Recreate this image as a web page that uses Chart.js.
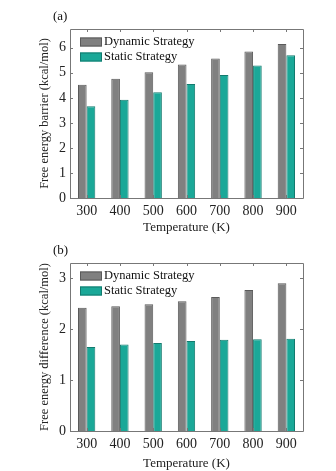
<!DOCTYPE html>
<html>
<head>
<meta charset="utf-8">
<title>Free energy vs temperature</title>
<script src="https://cdn.jsdelivr.net/npm/chart.js@4.4.0/dist/chart.umd.min.js"></script>
<style>
	body { margin: 0; background: #fff; }
	.panel { position: absolute; left: 0; width: 336px; }
</style>
</head>
<body>
<div class="panel" style="top:0;height:235px"><canvas id="chartA"></canvas></div>
<div class="panel" style="top:235px;height:236px"><canvas id="chartB"></canvas></div>
<script>
// data
const temperatures = ['300', '400', '500', '600', '700', '800', '900'];
const barrierDynamic = [4.52, 4.76, 5.02, 5.33, 5.57, 5.85, 6.15];
const barrierStatic = [3.66, 3.92, 4.22, 4.55, 4.91, 5.29, 5.70];
const diffDynamic = [2.42, 2.45, 2.49, 2.55, 2.63, 2.77, 2.90];
const diffStatic = [1.65, 1.70, 1.73, 1.77, 1.79, 1.80, 1.81];
const seriesNames = ['Dynamic Strategy', 'Static Strategy'];
const barrierTicks = [0, 1, 2, 3, 4, 5, 6];
const diffTicks = [0, 1, 2, 3];

const FONT = '"Liberation Serif", "Times New Roman", serif';
const GRAY = '#808080';
const TEAL = '#1aa898';

// box around plot area, inward ticks, legend and panel label
const framePlugin = {
	id: 'frame',
	afterDatasetsDraw(chart, args, opts) {
		const c = chart.ctx;
		const a = chart.chartArea;
		const x = chart.scales.x, y = chart.scales.y;
		c.save();
		c.strokeStyle = '#777';
		c.lineWidth = 1;
		c.beginPath();
		c.rect(Math.round(a.left) + 0.5, Math.round(a.top) + 0.5, Math.round(a.right - a.left), Math.round(a.bottom - a.top));
		c.stroke();
		c.beginPath();
		y.ticks.forEach(t => {
			const py = Math.round(y.getPixelForValue(t.value)) + 0.5;
			c.moveTo(a.left, py); c.lineTo(a.left + 3, py);
			c.moveTo(a.right, py); c.lineTo(a.right - 3, py);
		});
		x.ticks.forEach((t, i) => {
			const px = Math.round(x.getPixelForTick(i)) + 0.5;
			c.moveTo(px, a.bottom); c.lineTo(px, a.bottom - 3);
			c.moveTo(px, a.top); c.lineTo(px, a.top + 3);
		});
		c.stroke();

		// legend
		c.font = '12.5px ' + FONT;
		c.textBaseline = 'middle';
		c.textAlign = 'left';
		chart.data.datasets.forEach((ds, i) => {
			const cy = a.top + 13 + i * 15;
			c.fillStyle = ds.backgroundColor;
			c.fillRect(a.left + 10, cy - 4.5, 22, 9);
			c.strokeStyle = ds.borderColor;
			c.strokeRect(a.left + 10.5, cy - 4, 21, 8);
			c.fillStyle = '#111';
			c.fillText(ds.label, a.left + 34, cy);
		});

		// panel label
		c.font = '13px ' + FONT;
		c.fillText(opts.label, 53, a.top - 12);
		c.restore();
	}
};

function makeChart(id, label, yTitle, dyn, stat, yMax, yTicks, padTop, xHeight) {
	return new Chart(document.getElementById(id), {
		type: 'bar',
		data: {
			labels: temperatures,
			datasets: [
				{ label: seriesNames[0], data: dyn, backgroundColor: GRAY, borderColor: '#5a5a5a', borderWidth: 1 },
				{ label: seriesNames[1], data: stat, backgroundColor: TEAL, borderColor: '#137a6e', borderWidth: 1 }
			]
		},
		options: {
			responsive: true,
			maintainAspectRatio: false,
			animation: false,
			layout: { padding: { top: padTop, right: 33, left: 0, bottom: 0 } },
			datasets: { bar: { categoryPercentage: 0.52, barPercentage: 1.0 } },
			plugins: {
				legend: { display: false },
				tooltip: { enabled: false },
				frame: { label: label }
			},
			scales: {
				x: {
					grid: { display: false, drawTicks: false },
					border: { display: false },
					ticks: { color: '#222', font: { family: FONT, size: 14 }, padding: 5, maxRotation: 0 },
					title: { display: true, text: 'Temperature (K)', color: '#222', font: { family: FONT, size: 13 }, padding: { top: 0, bottom: 0 } },
					afterFit(s) { s.height = xHeight; }
				},
				y: {
					min: 0,
					max: yMax,
					grid: { display: false, drawTicks: false },
					border: { display: false },
					ticks: { color: '#222', font: { family: FONT, size: 14 }, padding: 4 },
					afterBuildTicks(s) { s.ticks = yTicks.map(v => ({ value: v })); },
					title: { display: true, text: yTitle, color: '#222', font: { family: FONT, size: 12.5 }, padding: { top: 37, bottom: 0 } },
					afterFit(s) { s.width = 70; }
				}
			}
		},
		plugins: [framePlugin]
	});
}

makeChart('chartA', '(a)', 'Free energy barrier (kcal/mol)', barrierDynamic, barrierStatic, 6.75, barrierTicks, 29, 37);
makeChart('chartB', '(b)', 'Free energy difference (kcal/mol)', diffDynamic, diffStatic, 3.3, diffTicks, 28, 40);
</script>
</body>
</html>
